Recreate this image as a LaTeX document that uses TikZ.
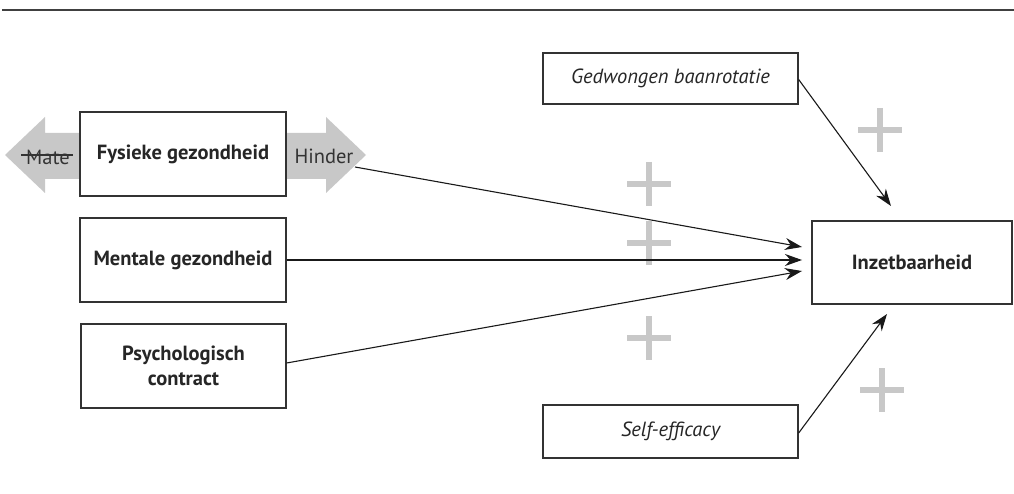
\documentclass[tikz,border=0pt]{standalone}
\usepackage{fontspec}
\setmainfont{PT Sans}
\usetikzlibrary{arrows.meta}
\definecolor{boxline}{HTML}{333333}
\definecolor{lightg}{HTML}{C8C8C8}
\begin{document}
\begin{tikzpicture}[x=1pt,y=-1pt,
  box/.style={draw=boxline,line width=1.3pt,fill=white,inner sep=0pt,align=center,font=\fontsize{20.5}{25}\selectfont\bfseries,text=black!85},
  ibox/.style={draw=boxline,line width=1.3pt,fill=white,inner sep=0pt,align=center,font=\fontsize{20.5}{25}\selectfont\itshape,text=black!85},
  conn/.style={line width=1.1pt,black!90,-{Stealth[length=17pt,width=12pt]}},
  plus/.style={lightg,line width=6.5pt},
  garrow/.style={fill=lightg,draw=none},
  lbl/.style={font=\fontsize{20.5}{25}\selectfont,text=black!80,inner sep=0pt}]
\useasboundingbox (0,0) rectangle (1014,494);
\draw[line width=1.6pt,black!75] (2,10) -- (1014,10);
% grey arrows
\fill[garrow] (82,133) -- (45,133) -- (45,117) -- (5,155) -- (45,193) -- (45,179) -- (82,179) -- cycle;
\fill[garrow] (284,133) -- (326,133) -- (326,117) -- (366,155) -- (326,193) -- (326,179) -- (284,179) -- cycle;
% plus signs
\foreach \px/\py in {880/130, 649/184, 649/243, 649/338, 882/390}{
  \draw[plus] (\px-22,\py) -- (\px+22,\py);
  \draw[plus] (\px,\py-22) -- (\px,\py+22);
}
% boxes
\node[box,minimum width=206pt,minimum height=84pt] (fys) at (183,154) {Fysieke gezondheid};
\node[box,minimum width=206pt,minimum height=84pt] (men) at (183,260) {Mentale gezondheid};
\node[box,minimum width=205pt,minimum height=84pt] (psy) at (183.5,366) {Psychologisch\\contract};
\node[ibox,minimum width=255pt,minimum height=51pt] (ged) at (670.5,78.5) {Gedwongen baanrotatie};
\node[ibox,minimum width=255pt,minimum height=53pt] (self) at (670.5,431.5) {Self-efficacy};
\node[box,minimum width=200pt,minimum height=83pt] (inz) at (912,262.5) {Inzetbaarheid};
% labels on grey arrows
\node[lbl] (mate) at (48,157) {Mate};
\draw[line width=1.2pt,black!80] (21,155) -- (73,155);
\node[lbl] (hinder) at (324,156) {Hinder};
% connector ends
\coordinate (fstart) at (355,167);
\coordinate (t1) at (802,247);
\coordinate (t2) at (802,260);
\coordinate (t3) at (802,271);
\coordinate (ttop) at (891,206);
\coordinate (tbot) at (887,314);
\draw[conn] (fstart) -- (t1);
\draw[conn] (men.east) -- (t2);
\draw[conn] ([yshift=3pt]psy.east) -- (t3);
\draw[conn] ([yshift=-1pt]ged.east) -- (ttop);
\draw[conn] ([yshift=-1.5pt]self.east) -- (tbot);
\end{tikzpicture}
\end{document}
